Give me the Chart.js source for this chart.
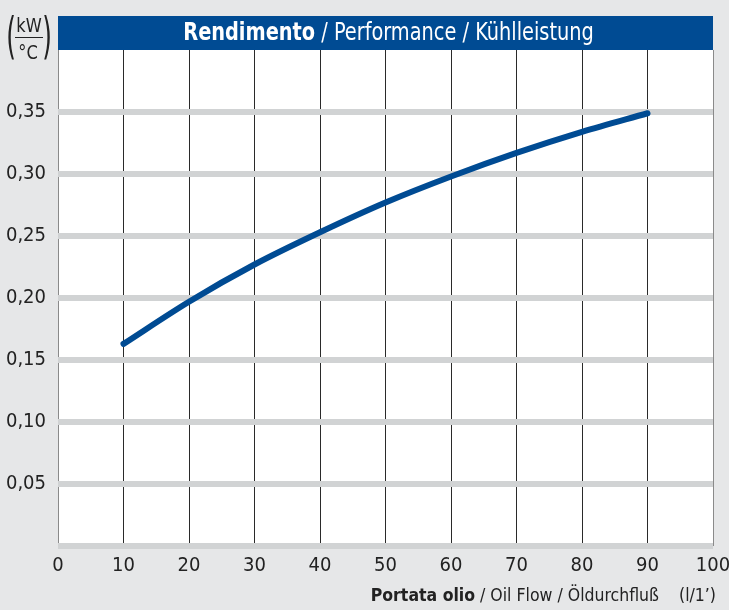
<!DOCTYPE html>
<html>
<head>
<meta charset="utf-8">
<script src="https://cdn.jsdelivr.net/npm/chart.js@4/dist/chart.umd.min.js"></script>
<style>
  html, body { margin: 0; padding: 0; background: #e6e7e8; }
  #wrap { width: 729px; height: 610px; }
</style>
</head>
<body>
<div id="wrap"><canvas id="chart" width="729" height="610"></canvas></div>
<script>
var FONT = '"Liberation Sans Narrow", "DejaVu Sans Condensed", sans-serif';

// data
var flow = [10, 20, 30, 40, 50, 60, 70, 80, 90];
var power = [0.163, 0.197, 0.227, 0.253, 0.277, 0.298, 0.317, 0.334, 0.349];

var titleBold = 'Rendimento';
var titleRest = ' / Performance / Kühlleistung';
var axisBold = 'Portata olio';
var axisRest = ' / Oil Flow / Öldurchfluß    (l/1\u2019)';

var points = flow.map(function (f, i) { return { x: f, y: power[i] }; });

// draw text squeezed horizontally (the original uses a condensed face)
function squeezed(c, txt, x, y, sx) {
  c.save();
  c.translate(x, y);
  c.scale(sx, 1);
  c.fillText(txt, 0, 0);
  c.restore();
}

/* backgrounds, header bar, unit label, axis title */
var decor = {
  id: 'decor',
  beforeDraw: function (chart) {
    var c = chart.ctx, a = chart.chartArea;
    c.save();
    c.fillStyle = '#e6e7e8';
    c.fillRect(0, 0, chart.width, chart.height);
    c.fillStyle = '#ffffff';
    c.fillRect(a.left, a.top, a.right - a.left, a.bottom - a.top);
    c.restore();
  },
  afterDraw: function (chart) {
    var c = chart.ctx, a = chart.chartArea;
    c.save();
    // header
    c.fillStyle = '#004b93';
    c.fillRect(a.left, 16, a.right - a.left, a.top - 16);
    c.fillStyle = '#ffffff';
    c.textBaseline = 'alphabetic';
    var sx = 0.86;
    c.font = 'bold 25px ' + FONT;
    var wb = c.measureText(titleBold).width * sx;
    c.font = '25px ' + FONT;
    var wr = c.measureText(titleRest).width * sx;
    var x0 = (a.left + a.right) / 2 - (wb + wr) / 2 + 3;
    c.font = 'bold 25px ' + FONT;
    squeezed(c, titleBold, x0, 40, sx);
    c.font = '25px ' + FONT;
    squeezed(c, titleRest, x0 + wb, 40, sx);

    // unit kW / °C
    c.fillStyle = '#222222';
    c.textAlign = 'center';
    c.font = '20px ' + FONT;
    squeezed(c, 'kW', 29, 32, 0.9);
    squeezed(c, '\u00B0C', 28, 59, 0.9);
    c.fillRect(15, 37, 28, 1);
    c.font = '50px ' + FONT;
    squeezed(c, '(', 11, 53, 0.55);
    squeezed(c, ')', 47, 53, 0.55);

    // axis title
    c.textAlign = 'left';
    c.font = '17.5px ' + FONT;
    var wr2 = c.measureText(axisRest).width;
    c.font = 'bold 17.5px ' + FONT;
    var wb2 = c.measureText(axisBold).width;
    var x1 = 716 - wr2 - wb2;
    c.fillText(axisBold, x1, 601);
    c.font = '17.5px ' + FONT;
    c.fillText(axisRest, x1 + wb2, 601);
    c.restore();
  }
};

new Chart(document.getElementById('chart'), {
  type: 'line',
  data: {
    datasets: [{
      data: points,
      borderColor: '#004b93',
      borderWidth: 6,
      borderCapStyle: 'round',
      pointRadius: 0,
      cubicInterpolationMode: 'monotone',
      fill: false
    }]
  },
  options: {
    responsive: false,
    animation: false,
    layout: { padding: { top: 50, right: 16, left: 0, bottom: 0 } },
    plugins: { legend: { display: false }, tooltip: { enabled: false } },
    scales: {
      x: {
        type: 'linear',
        min: 0, max: 100,
        border: { display: false },
        grid: {
          drawTicks: false,
          lineWidth: 1,
          color: function (ctx) {
            var v = ctx.tick && ctx.tick.value;
            return (v === 0 || v === 100) ? '#8a8a8a' : '#2a2a2a';
          }
        },
        ticks: {
          stepSize: 10,
          padding: 8,
          color: '#222222',
          font: { family: FONT, size: 20 }
        },
        afterFit: function (s) {
          s.height = 64;
          s.paddingLeft = 0;
          s.paddingRight = 0;
        }
      },
      y: {
        min: 0, max: 0.40,
        z: -1,
        border: { display: false },
        grid: {
          drawTicks: false,
          lineWidth: 6,
          color: function (ctx) {
            var v = ctx.tick && ctx.tick.value;
            return v > 0.39 ? 'rgba(0,0,0,0)' : '#d1d3d4';
          }
        },
        ticks: {
          stepSize: 0.05,
          padding: 12,
          color: '#222222',
          font: { family: FONT, size: 20 },
          callback: function (v) {
            if (v < 0.01 || v > 0.39) return '';
            return v.toFixed(2).replace('.', ',');
          }
        },
        afterFit: function (s) {
          s.width = 58;
          s.paddingTop = 0;
          s.paddingBottom = 0;
        }
      }
    }
  },
  plugins: [decor]
});
</script>
</body>
</html>
